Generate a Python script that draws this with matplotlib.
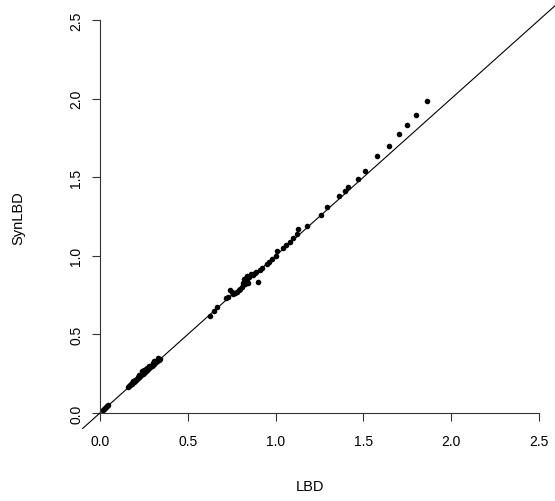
import matplotlib
matplotlib.use("Agg")
import matplotlib.pyplot as plt

plt.rcParams['font.family'] = ['Liberation Sans', 'DejaVu Sans']

lbd = [0.020, 0.025, 0.030, 0.035, 0.040, 0.045,
       0.160, 0.165, 0.170, 0.175, 0.180, 0.185, 0.190, 0.195, 0.200, 0.205,
       0.210, 0.215, 0.220, 0.225, 0.230, 0.235, 0.240, 0.245, 0.250, 0.255,
       0.260, 0.265, 0.270, 0.275, 0.280, 0.285, 0.290, 0.295, 0.300, 0.305,
       0.310, 0.315, 0.320, 0.325, 0.330, 0.335, 0.340, 0.240, 0.250, 0.190,
       0.230, 0.280, 0.300, 0.260, 0.215, 0.200, 0.220, 0.270, 0.310, 0.330,
       0.626, 0.649, 0.664, 0.720, 0.730, 0.740, 0.750, 0.760, 0.770, 0.780,
       0.790, 0.800, 0.810, 0.815, 0.820, 0.830, 0.840, 0.850, 0.860, 0.870,
       0.880, 0.900, 0.890, 0.910, 0.920, 0.950, 0.960, 0.980, 1.000, 1.010,
       1.040, 1.060, 1.080, 1.100, 0.835, 0.845, 0.825,
       1.124, 1.129, 1.177, 1.259, 1.291, 1.363, 1.397, 1.414, 1.467, 1.509,
       1.579, 1.646, 1.705, 1.746, 1.798, 1.864]
synlbd = [0.022, 0.028, 0.033, 0.038, 0.044, 0.050,
          0.165, 0.172, 0.178, 0.182, 0.186, 0.192, 0.196, 0.200, 0.206, 0.210,
          0.216, 0.220, 0.226, 0.230, 0.236, 0.240, 0.246, 0.250, 0.256, 0.262,
          0.266, 0.272, 0.276, 0.282, 0.286, 0.292, 0.296, 0.302, 0.306, 0.312,
          0.316, 0.322, 0.326, 0.330, 0.336, 0.340, 0.345, 0.270, 0.275, 0.205,
          0.240, 0.298, 0.315, 0.280, 0.232, 0.212, 0.240, 0.288, 0.328, 0.348,
          0.619, 0.649, 0.672, 0.730, 0.735, 0.785, 0.770, 0.760, 0.765, 0.770,
          0.780, 0.790, 0.800, 0.830, 0.850, 0.860, 0.870, 0.862, 0.885, 0.880,
          0.890, 0.831, 0.900, 0.910, 0.920, 0.950, 0.962, 0.980, 1.000, 1.030,
          1.050, 1.070, 1.090, 1.115, 0.840, 0.830, 0.820,
          1.139, 1.170, 1.188, 1.257, 1.310, 1.378, 1.410, 1.438, 1.490, 1.541,
          1.633, 1.698, 1.773, 1.830, 1.894, 1.987]
ticks = [0.0, 0.5, 1.0, 1.5, 2.0, 2.5]
tick_labels = ["0.0", "0.5", "1.0", "1.5", "2.0", "2.5"]

W, H = 555, 502
fig = plt.figure(figsize=(W / 100, H / 100), dpi=100)
left_px, right_px, top_px, bot_px = 82.4, 556.6, 5.3, 429.7
ax = fig.add_axes([left_px / W, 1 - bot_px / H, (right_px - left_px) / W, (bot_px - top_px) / H])
ax.set_xlim(-0.1, 2.6)
ax.set_ylim(-0.1, 2.6)

ax.axline((0, 0), slope=1, color='black', lw=0.8)
ax.plot(lbd, synlbd, 'o', color='black', ms=4.0, mew=0)

for s in ['top', 'right']:
    ax.spines[s].set_visible(False)
ax.spines['left'].set_position(('data', 0))
ax.spines['bottom'].set_position(('data', 0))
ax.spines['left'].set_bounds(0, 2.5)
ax.spines['bottom'].set_bounds(0, 2.5)
for s in ['left', 'bottom']:
    ax.spines[s].set_linewidth(0.8)
    ax.spines[s].set_color('#333333')

ax.set_xticks(ticks)
ax.set_xticklabels(tick_labels)
ax.set_yticks(ticks)
ax.set_yticklabels(tick_labels, rotation=90, va='center')
ax.tick_params(axis='both', direction='out', length=6, width=0.8, color='#333333',
               labelsize=10)
ax.tick_params(axis='x', pad=9)
ax.tick_params(axis='y', pad=6)

fig.text(310 / W, 1 - 487 / H, "LBD", ha='center', va='center', fontsize=10.5)
fig.text(18 / W, 1 - 218 / H, "SynLBD", ha='center', va='center', rotation=90, fontsize=10.5)

fig.savefig("out.png", dpi=100)
